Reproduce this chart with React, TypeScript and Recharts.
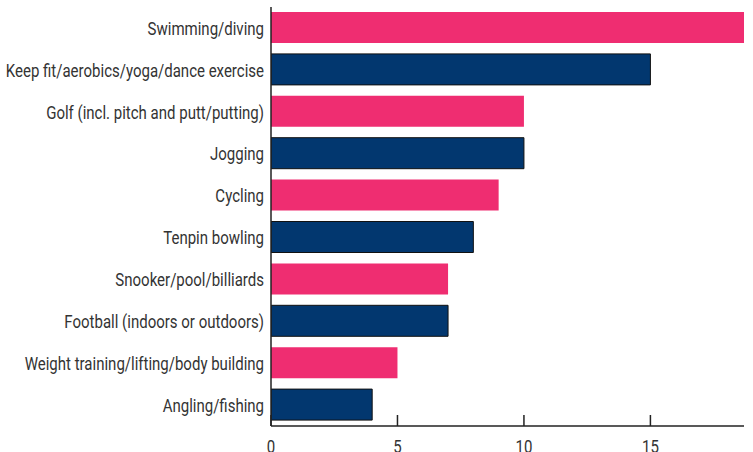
import React from 'react';
import { BarChart, Bar, XAxis, YAxis, Cell } from 'recharts';

const activities = [
  'Swimming/diving',
  'Keep fit/aerobics/yoga/dance exercise',
  'Golf (incl. pitch and putt/putting)',
  'Jogging',
  'Cycling',
  'Tenpin bowling',
  'Snooker/pool/billiards',
  'Football (indoors or outdoors)',
  'Weight training/lifting/body building',
  'Angling/fishing',
];
const participation = [19, 15, 10, 10, 9, 8, 7, 7, 5, 4];
const xTicks = [0, 5, 10, 15];

const PINK = '#ef2d71';
const NAVY = '#02376f';
const FONT = 'Roboto, "Liberation Sans", sans-serif';
const SQUEEZE = 0.79;

const data = activities.map((name, i) => ({ name, value: participation[i] }));

// condensed look: squeeze the text horizontally
const YTick = (props: any) => {
  const { x, y, payload } = props;
  return (
    <text
      transform={`translate(${x},${y}) scale(${SQUEEZE},1)`}
      textAnchor="end"
      dy="0.36em"
      fill="#333"
      fontSize={19}
      fontFamily={FONT}
    >
      {payload.value}
    </text>
  );
};

const XTick = (props: any) => {
  const { x, y, payload } = props;
  return (
    <g>
      <line x1={x} y1={y} x2={x} y2={y - 11} stroke="#222" strokeWidth={1.5} />
      <text
        transform={`translate(${x},${y + 27}) scale(${SQUEEZE},1)`}
        textAnchor="middle"
        fill="#333"
        fontSize={19}
        fontFamily={FONT}
      >
        {payload.value}
      </text>
    </g>
  );
};

const App: React.FC = () => {
  return (
    <div style={{ position: 'absolute', left: 0, top: 0 }}>
      <BarChart
        width={753}
        height={452}
        data={data}
        layout="vertical"
        margin={{ top: 7, right: 9, left: 0, bottom: 0 }}
      >
        <XAxis
          type="number"
          domain={[0, 18.7]}
          allowDataOverflow
          ticks={xTicks}
          tick={<XTick />}
          tickLine={false}
          tickSize={0}
          tickMargin={0}
          height={26}
          axisLine={{ stroke: '#222', strokeWidth: 1.5 }}
        />
        <YAxis
          type="category"
          dataKey="name"
          width={271}
          tickLine={false}
          tickMargin={1}
          axisLine={{ stroke: '#222', strokeWidth: 1.5 }}
          tick={<YTick />}
          interval={0}
        />
        <Bar dataKey="value" barSize={31} isAnimationActive={false}>
          {data.map((d, i) => (
            <Cell
              key={d.name}
              fill={i % 2 === 0 ? PINK : NAVY}
              stroke={i % 2 === 0 ? 'none' : '#111'}
              strokeWidth={1}
            />
          ))}
        </Bar>
      </BarChart>
    </div>
  );
};

export default App;
